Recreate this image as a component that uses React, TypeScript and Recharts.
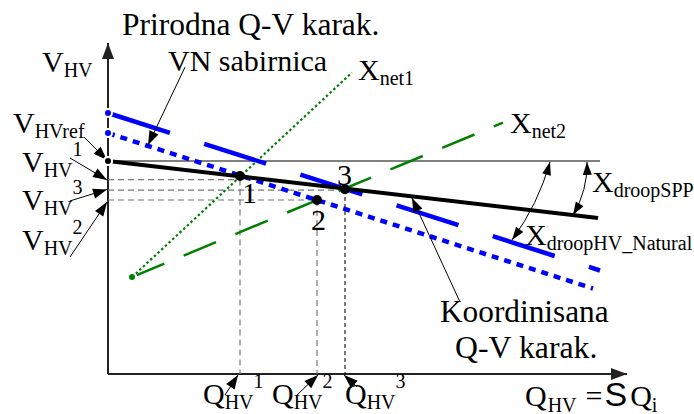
import React from "react";
import { ComposedChart, Line, XAxis, YAxis, ReferenceLine, ReferenceDot } from "recharts";

const SERIF = "Liberation Serif, Times New Roman, DejaVu Serif, serif";
const SANS = "Liberation Sans, Arial, sans-serif";

// Q-V characteristics, Q along x, V up (schematic units)
const vrefLine = [{ q: 0, v: 71 }, { q: 98.4, v: 71 }];
const sppLine = [{ q: 0, v: 71 }, { q: 98, v: 52 }];
const naturalHigh = [{ q: 0, v: 87 }, { q: 98.4, v: 34.5 }];
const naturalLow = [{ q: 0, v: 80.3 }, { q: 97, v: 28.5 }];
const xnet1 = [{ q: 4.8, v: 32.3 }, { q: 48.8, v: 100.5 }];
const xnet2 = [{ q: 4.8, v: 32.3 }, { q: 79, v: 83.8 }];

// operating points 1, 2, 3
const pointQ = [26.4, 41.8, 47.4];
const pointV = [66, 58, 61.6];
// levels of the dashed projections onto the V axis
const guideV = [64.8, 58, 61.3];

// axes
const axisQMax = 103.8;
const axisVMax = 110.3;

// text notes: anchor (start, baseline) in chart units
const notes = [
  { q: 2.8, v: 113, main: "Prirodna Q-V karak.", size: 31.5 },
  { q: 12, v: 101, main: "VN sabirnica" },
  { q: -13.2, v: 100.7, main: "V", sub: "HV" },
  { q: -19, v: 80.3, main: "V", sub: "HVref" },
  { q: -17.2, v: 67.3, main: "V", sub: "HV", sup: "1" },
  { q: -17.2, v: 54.7, main: "V", sub: "HV", sup: "3" },
  { q: -17.2, v: 41.3, main: "V", sub: "HV", sup: "2" },
  { q: 50, v: 98, main: "X", sub: "net1" },
  { q: 80.4, v: 80.3, main: "X", sub: "net2" },
  { q: 96.8, v: 60.7, main: "X", sub: "droopSPP" },
  { q: 83.4, v: 43, main: "X", sub: "droopHV_Natural" },
  { q: 26.8, v: 57, main: "1" },
  { q: 40.6, v: 48, main: "2" },
  { q: 45.8, v: 63, main: "3" },
  { q: 66.4, v: 17.3, main: "Koordinisana", size: 31.3 },
  { q: 69.4, v: 5.3, main: "Q-V karak.", size: 31.8 },
  { q: 19, v: -10, main: "Q", sub: "HV", sup: "1" },
  { q: 32.8, v: -10, main: "Q", sub: "HV", sup: "2" },
  { q: 47.4, v: -10, main: "Q", sub: "HV", sup: "3" },
];

// pointer arrows: tail -> head
const pointers = [
  { from: [15.4, 102.3], to: [8, 76.3] },
  { from: [70.4, 24], to: [60.8, 58.7] },
  { from: [-4.8, 79], to: [-0.2, 71.3] },
  { from: [-7.6, 72], to: [-0.2, 64.7] },
  { from: [-7.6, 57.7], to: [-0.2, 61.5] },
  { from: [-7.6, 39], to: [-0.2, 57.3] },
  { from: [23.4, -7], to: [26, -0.3] },
  { from: [37.8, -7], to: [42, -0.3] },
  { from: [49.8, -4.3], to: [47.2, -0.3] },
];

// droop angle arcs (double headed)
const droopArcs = [
  { from: [95.8, 70.7], to: [93, 53] },
  { from: [88.4, 70.7], to: [80.8, 44.7] },
];

function head(x: number, y: number, fx: number, fy: number, len: number, half: number) {
  const dx = x - fx;
  const dy = y - fy;
  const d = Math.hypot(dx, dy) || 1;
  const ux = dx / d;
  const uy = dy / d;
  const bx = x - ux * len;
  const by = y - uy * len;
  return `${x},${y} ${bx - uy * half},${by + ux * half} ${bx + uy * half},${by - ux * half}`;
}

const arrowShape = (len: number, half: number, width: number, color: string) => (p: any) => (
  <g>
    <line x1={p.x1} y1={p.y1} x2={p.x2} y2={p.y2} stroke={color} strokeWidth={width} />
    <polygon points={head(p.x2, p.y2, p.x1, p.y1, len, half)} fill={color} />
  </g>
);

const arcShape = (bend: number) => (p: any) => {
  const mx = (p.x1 + p.x2) / 2;
  const my = (p.y1 + p.y2) / 2;
  const dx = p.x2 - p.x1;
  const dy = p.y2 - p.y1;
  const d = Math.hypot(dx, dy) || 1;
  const cx = mx + (dy / d) * bend;
  const cy = my - (dx / d) * bend;
  return (
    <g>
      <path d={`M${p.x1},${p.y1} Q${cx},${cy} ${p.x2},${p.y2}`} fill="none" stroke="#000" strokeWidth={1} />
      <polygon points={head(p.x1, p.y1, cx, cy, 13, 4.5)} fill="#000" />
      <polygon points={head(p.x2, p.y2, cx, cy, 13, 4.5)} fill="#000" />
    </g>
  );
};

const serif = { fontFamily: SERIF };

const noteShape = (n: any) => (p: any) => (
  <text x={p.cx} y={p.cy} style={{ ...serif, fontSize: n.size ?? 30 }} fill="#000">
    <tspan>{n.main}</tspan>
    {n.sub && (
      <tspan style={{ fontSize: 20 }} dy={5}>
        {n.sub}
      </tspan>
    )}
    {n.sup && (
      <tspan style={{ fontSize: 20 }} dy={-21}>
        {n.sup}
      </tspan>
    )}
  </text>
);

const sumShape = (p: any) => (
  <text x={p.cx} y={p.cy} style={{ ...serif, fontSize: 30 }} fill="#000">
    <tspan>Q</tspan>
    <tspan style={{ fontSize: 20 }} dy={6} dx={1}>HV</tspan>
    <tspan dy={-6} dx={9}>=</tspan>
    <tspan style={{ fontFamily: SANS, fontSize: 34 }} dx={2}>S</tspan>
    <tspan dx={3}>Q</tspan>
    <tspan style={{ fontSize: 20 }} dy={6}>i</tspan>
  </text>
);

export default function App() {
  return (
    <div style={{ position: "absolute", left: 0, top: 0, width: 694, height: 414, background: "#fff" }}>
      <ComposedChart width={694} height={414} margin={{ top: 0, right: 0, bottom: 0, left: 0 }}>
        <XAxis type="number" dataKey="q" domain={[-21.6, 117.2]} allowDataOverflow hide />
        <YAxis type="number" dataKey="v" domain={[-13.33, 124.67]} allowDataOverflow hide />

        {/* axes */}
        <ReferenceLine segment={[{ x: 0, y: 0 }, { x: 0, y: axisVMax }]} shape={arrowShape(16, 6, 2, "#222")} />
        <ReferenceLine segment={[{ x: 0, y: 0 }, { x: axisQMax, y: 0 }]} shape={arrowShape(16, 6, 2, "#222")} />

        {/* projections */}
        {pointQ.map((q, i) => (
          <ReferenceLine
            key={`h${i}`}
            segment={[{ x: 0, y: guideV[i] }, { x: q, y: guideV[i] }]}
            stroke="#777"
            strokeWidth={1.2}
            strokeDasharray="6 4"
          />
        ))}
        {pointQ.map((q, i) => (
          <ReferenceLine
            key={`v${i}`}
            segment={[{ x: q, y: guideV[i] }, { x: q, y: 0 }]}
            stroke={i === 2 ? "#222" : "#777"}
            strokeWidth={1.2}
            strokeDasharray={i === 2 ? "4 3" : "6 4"}
          />
        ))}

        <Line data={vrefLine} dataKey="v" stroke="#000" strokeWidth={1} dot={false} isAnimationActive={false} />
        <Line data={xnet1} dataKey="v" stroke="#008000" strokeWidth={2.2} strokeDasharray="2.5 2.5" dot={false} isAnimationActive={false} />
        <Line data={xnet2} dataKey="v" stroke="#008000" strokeWidth={2.5} strokeDasharray="35 21" dot={false} isAnimationActive={false} />
        <Line data={naturalHigh} dataKey="v" stroke="#0000ff" strokeWidth={4.5} strokeDasharray="65 36" dot={false} isAnimationActive={false} />
        <Line data={naturalLow} dataKey="v" stroke="#0000ff" strokeWidth={4.5} strokeDasharray="7 6" dot={false} isAnimationActive={false} />
        <Line data={sppLine} dataKey="v" stroke="#000" strokeWidth={4} dot={false} isAnimationActive={false} />

        {pointQ.map((q, i) => (
          <ReferenceDot key={`p${i}`} x={q} y={pointV[i]} r={5} fill="#000" stroke="none" />
        ))}

        {pointers.map((a, i) => (
          <ReferenceLine
            key={`a${i}`}
            segment={[{ x: a.from[0], y: a.from[1] }, { x: a.to[0], y: a.to[1] }]}
            shape={arrowShape(14, 5, 1, "#000")}
          />
        ))}
        {droopArcs.map((a, i) => (
          <ReferenceLine
            key={`c${i}`}
            segment={[{ x: a.from[0], y: a.from[1] }, { x: a.to[0], y: a.to[1] }]}
            shape={arcShape(8)}
          />
        ))}

        {notes.map((n, i) => (
          <ReferenceDot key={`n${i}`} x={n.q} y={n.v} r={1} shape={noteShape(n)} />
        ))}
        <ReferenceDot x={83.4} y={-10.7} r={1} shape={sumShape} />
      </ComposedChart>
    </div>
  );
}
